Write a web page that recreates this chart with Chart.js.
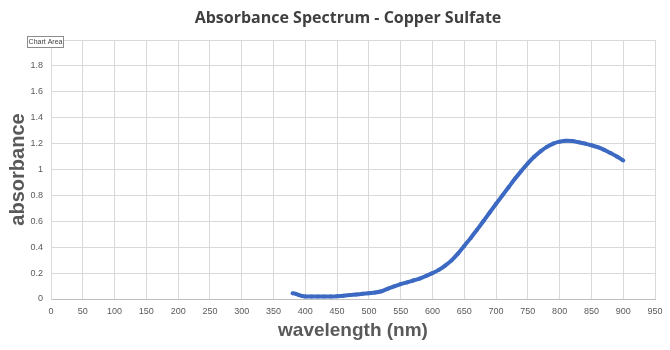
<!DOCTYPE html>
<html>
<head>
<meta charset="utf-8">
<script src="https://cdn.jsdelivr.net/npm/chart.js@4"></script>
<style>
  html, body { margin: 0; padding: 0; background: #ffffff; }
  #wrap { width: 670px; height: 350px; }
</style>
</head>
<body>
<div id="wrap"><canvas id="c" width="670" height="350"></canvas></div>
<script>
const chartTitle = "Absorbance Spectrum - Copper Sulfate";
const xTitle = "wavelength (nm)";
const yTitle = "absorbance";
const wavelengths = [380, 385, 390, 395, 400, 410, 420, 430, 440, 450, 460, 470, 480, 490, 500, 510, 520, 530, 540, 550, 560, 570, 580, 590, 600, 610, 620, 630, 640, 650, 660, 670, 680, 690, 700, 710, 720, 730, 740, 750, 760, 770, 780, 790, 800, 810, 820, 830, 840, 850, 860, 870, 880, 890, 900];
const absorbance = [0.045, 0.04, 0.03, 0.023, 0.02, 0.019, 0.019, 0.019, 0.02, 0.022, 0.025, 0.03, 0.035, 0.04, 0.045, 0.05, 0.06, 0.08, 0.098, 0.115, 0.128, 0.143, 0.158, 0.178, 0.2, 0.225, 0.258, 0.298, 0.35, 0.41, 0.47, 0.535, 0.6, 0.668, 0.735, 0.8, 0.865, 0.93, 0.99, 1.048, 1.098, 1.14, 1.175, 1.2, 1.215, 1.222, 1.22, 1.21, 1.2, 1.187, 1.172, 1.152, 1.127, 1.1, 1.07];
const xMin = 0, xMax = 950, xStep = 50;
const yMin = 0, yMax = 2, yStep = 0.2;

const points = wavelengths.map((w, i) => ({ x: w, y: absorbance[i] }));

const overlay = {
  id: 'overlay',
  afterDraw(chart) {
    const ctx = chart.ctx;
    const area = chart.chartArea;
    ctx.save();
    ctx.fillStyle = '#404040';
    ctx.font = 'bold 16px "Open Sans", "Liberation Sans", sans-serif';
    ctx.textAlign = 'center';
    ctx.textBaseline = 'middle';
    ctx.fillText(chartTitle, (area.left + area.right) / 2 - 5, 18.5);
    ctx.fillStyle = '#ffffff';
    ctx.fillRect(27, 36, 36, 11);
    ctx.strokeStyle = '#8c8c8c';
    ctx.lineWidth = 1;
    ctx.strokeRect(27.5, 36.5, 36, 11);
    ctx.fillStyle = '#404040';
    ctx.font = '7px "Liberation Sans", sans-serif';
    ctx.textAlign = 'center';
    ctx.fillText('Chart Area', 45.5, 42.5);
    ctx.restore();
  }
};

new Chart(document.getElementById('c'), {
  type: 'scatter',
  data: {
    datasets: [{
      data: points,
      showLine: true,
      borderColor: '#3c69c2',
      backgroundColor: '#3c69c2',
      borderWidth: 4,
      pointRadius: 2,
      pointBorderWidth: 0,
      tension: 0.4,
      cubicInterpolationMode: 'monotone'
    }]
  },
  options: {
    responsive: false,
    animation: false,
    devicePixelRatio: 1,
    layout: { padding: { left: 0, right: 15, top: 40, bottom: 0 } },
    plugins: {
      legend: { display: false },
      title: { display: false },
      tooltip: { enabled: false }
    },
    scales: {
      x: {
        type: 'linear',
        min: xMin, max: xMax,
        ticks: {
          stepSize: xStep,
          color: '#595959',
          font: { size: 9, family: '"Liberation Sans", Arial, sans-serif' },
          padding: 7,
          maxRotation: 0,
          autoSkip: false
        },
        grid: { color: '#d9d9d9', drawTicks: false },
        border: { color: '#bfbfbf' },
        title: {
          display: true,
          text: xTitle,
          color: '#595959',
          font: { size: 19, weight: 'bold', family: '"Liberation Sans", Arial, sans-serif' },
          padding: { top: 0, bottom: 8 }
        },
        afterFit(scale) { scale.height = 51; }
      },
      y: {
        type: 'linear',
        min: yMin, max: yMax,
        ticks: {
          stepSize: yStep,
          color: '#595959',
          font: { size: 9, family: '"Liberation Sans", Arial, sans-serif' },
          padding: 8,
          callback: (v) => Number(v.toFixed(1)).toString()
        },
        grid: { color: '#d9d9d9', drawTicks: false },
        border: { color: '#d9d9d9' },
        title: {
          display: true,
          text: yTitle,
          color: '#595959',
          font: { size: 20, weight: 'bold', family: '"Liberation Sans", Arial, sans-serif' },
          padding: { top: 6, bottom: 4 }
        },
        afterFit(scale) { scale.width = 51; }
      }
    }
  },
  plugins: [overlay]
});
</script>
</body>
</html>
